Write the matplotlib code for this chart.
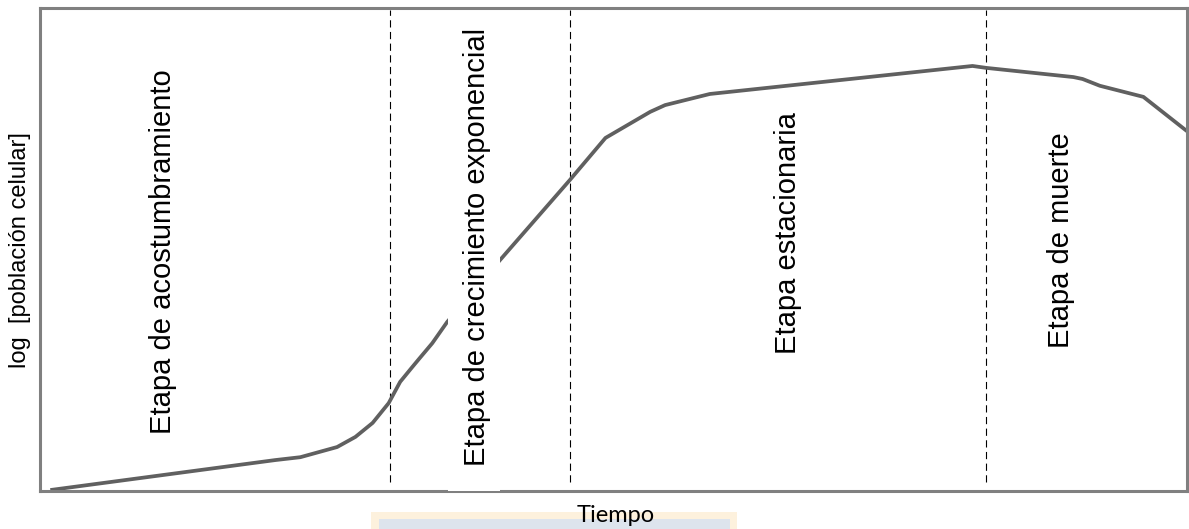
import matplotlib
matplotlib.use("Agg")
import matplotlib.pyplot as plt
from matplotlib.patches import Rectangle

# ---- data (time and log-population in arbitrary units 0-100) ----
time_vals = [0.9, 20.5, 22.7, 25.9, 27.5, 29.0, 30.4, 31.4, 32.4, 33.1, 34.2, 35.5,
             40.1, 46.2, 49.3, 53.2, 54.5, 58.4, 81.3, 82.5, 90.1, 90.9, 92.4, 96.2, 100.0]
logpop_vals = [0.2, 6.4, 7.0, 9.1, 11.2, 14.1, 18.2, 22.6, 25.5, 27.5, 30.6, 35.0,
               47.8, 64.4, 73.1, 78.5, 79.9, 82.2, 88.0, 87.6, 85.7, 85.3, 83.9, 81.6, 74.5]
phase_bounds = [30.5, 46.2, 82.5]
phase_labels = ["Etapa de acostumbramiento", "Etapa de crecimiento exponencial",
                "Etapa estacionaria", "Etapa de muerte"]
x_label = "Tiempo"
y_label = "log  [población celular]"

W, H, DPI = 1189, 529, 100
fig = plt.figure(figsize=(W / DPI, H / DPI), dpi=DPI)
fig.patch.set_facecolor("white")

L, R, T, B = 40, 1187, 8, 491
ax = fig.add_axes([L / W, (H - B) / H, (R - L) / W, (B - T) / H])
ax.set_xlim(0, 100)
ax.set_ylim(0, 100)
ax.set_xticks([])
ax.set_yticks([])
for s in ax.spines.values():
    s.set_color("#808080")
    s.set_linewidth(2.2)
    s.set_zorder(2.5)

# growth curve
ax.plot(time_vals, logpop_vals, color="#606060", lw=2.7, solid_joinstyle="round",
        solid_capstyle="butt", zorder=2, clip_on=False)

# phase boundaries
for xb in phase_bounds:
    ax.plot([xb, xb], [1.9, 99.6], color="black", lw=0.8,
            linestyle=(0, (6.5, 4.0)), zorder=1.5)

# white background box behind the exponential-phase label
ax.add_patch(Rectangle((0.3557, -0.001), 0.0453, 0.96, transform=ax.transAxes,
                       facecolor="white", edgecolor="none", zorder=3, clip_on=False))

label_pos = [(0.1072, 0.496), (0.3806, 0.505), (0.6521, 0.534), (0.8902, 0.520)]
for (tx, ty), lab in zip(label_pos, phase_labels):
    ax.text(tx, ty, lab, transform=ax.transAxes, rotation=90, ha="center", va="center",
            fontsize=21, family="Liberation Sans", color="black", zorder=4)

# y label
fig.text(20 / W, (H - 250) / H, y_label, rotation=90, ha="center", va="center",
         fontsize=17, family="Liberation Sans", color="black")

# box at the bottom
fig.patches.append(Rectangle((371 / W, 0), (737 - 371) / W, (H - 512) / H,
                             transform=fig.transFigure, facecolor="#fdf1dd",
                             edgecolor="none", zorder=0))
fig.patches.append(Rectangle((379 / W, 0), (730 - 379) / W, (H - 519) / H,
                             transform=fig.transFigure, facecolor="#dde4ed",
                             edgecolor="none", zorder=0.5))

fig.text(616 / W, (H - 522) / H, x_label, ha="center", va="baseline",
         fontsize=17, family="Lato", color="black", zorder=5)

fig.savefig("out.png", dpi=DPI)
